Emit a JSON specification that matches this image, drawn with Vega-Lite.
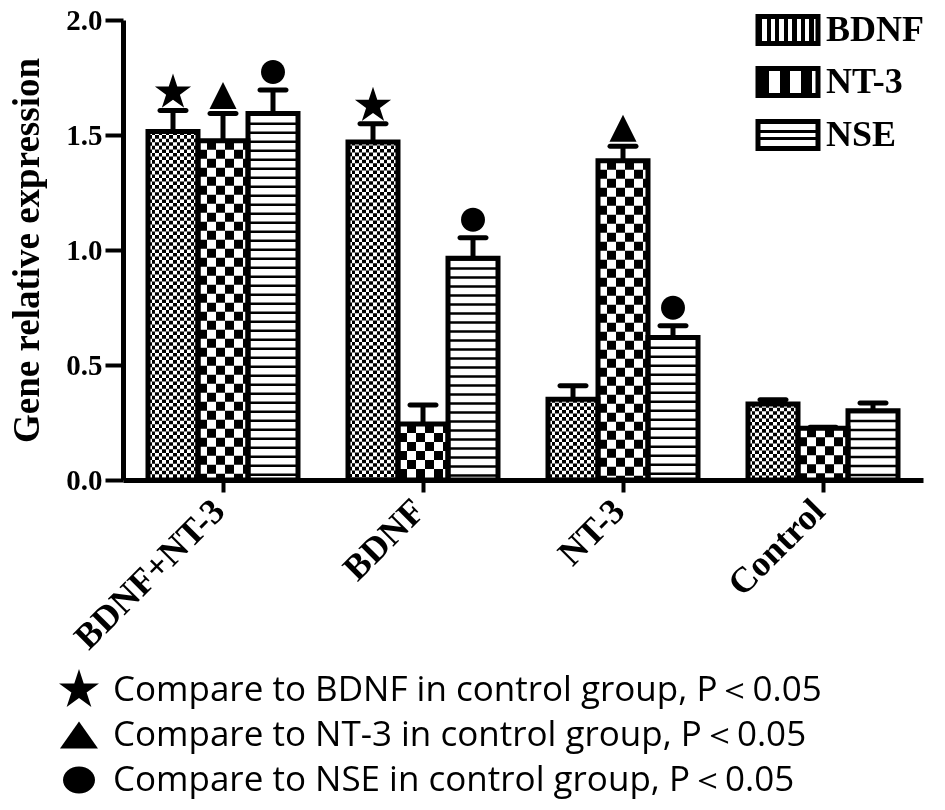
{
  "$schema": "https://vega.github.io/schema/vega-lite/v6.json",
  "width": 800,
  "height": 460,
  "autosize": {"type": "none"},
  "padding": {"left": 123, "top": 20, "right": 22, "bottom": 330},
  "background": "white",
  "data": {
    "values": [
      {"group": "BDNF+NT-3", "gene": "BDNF", "value": 1.515, "upper": 1.607, "sig": "star"},
      {"group": "BDNF+NT-3", "gene": "NT-3", "value": 1.475, "upper": 1.593, "sig": "triangle"},
      {"group": "BDNF+NT-3", "gene": "NSE", "value": 1.594, "upper": 1.696, "sig": "circle"},
      {"group": "BDNF", "gene": "BDNF", "value": 1.470, "upper": 1.549, "sig": "star"},
      {"group": "BDNF", "gene": "NT-3", "value": 0.243, "upper": 0.326, "sig": null},
      {"group": "BDNF", "gene": "NSE", "value": 0.964, "upper": 1.053, "sig": "circle"},
      {"group": "NT-3", "gene": "BDNF", "value": 0.351, "upper": 0.410, "sig": null},
      {"group": "NT-3", "gene": "NT-3", "value": 1.388, "upper": 1.451, "sig": "triangle"},
      {"group": "NT-3", "gene": "NSE", "value": 0.620, "upper": 0.671, "sig": "circle"},
      {"group": "Control", "gene": "BDNF", "value": 0.330, "upper": 0.349, "sig": null},
      {"group": "Control", "gene": "NT-3", "value": 0.225, "upper": 0.229, "sig": null},
      {"group": "Control", "gene": "NSE", "value": 0.301, "upper": 0.335, "sig": null}
    ]
  },
  "encoding": {
    "x": {
      "field": "group",
      "type": "nominal",
      "scale": {"domain": ["BDNF+NT-3", "BDNF", "NT-3", "Control"], "paddingInner": 0, "paddingOuter": 0},
      "axis": {"title": null}
    },
    "xOffset": {
      "field": "gene",
      "type": "nominal",
      "scale": {"domain": ["BDNF", "NT-3", "NSE"], "paddingInner": 0, "paddingOuter": 0.5}
    },
    "y": {
      "field": "value",
      "type": "quantitative",
      "scale": {"domain": [0, 2], "nice": false},
      "axis": {"title": "Gene relative expression", "values": [0, 0.5, 1, 1.5, 2], "format": ".1f"}
    }
  },
  "layer": [
    {
      "transform": [{"filter": "datum.gene === 'BDNF'"}],
      "mark": {
        "type": "bar",
        "stroke": null,
        "fill": {
          "gradient": "linear", "x1": 0, "y1": 0, "x2": 1, "y2": 0,
          "stops": [
            {"offset": 0, "color": "black"}, {"offset": 0.0714, "color": "black"},
            {"offset": 0.0714, "color": "white"}, {"offset": 0.1429, "color": "white"},
            {"offset": 0.1429, "color": "black"}, {"offset": 0.2143, "color": "black"},
            {"offset": 0.2143, "color": "white"}, {"offset": 0.2857, "color": "white"},
            {"offset": 0.2857, "color": "black"}, {"offset": 0.3571, "color": "black"},
            {"offset": 0.3571, "color": "white"}, {"offset": 0.4286, "color": "white"},
            {"offset": 0.4286, "color": "black"}, {"offset": 0.5, "color": "black"},
            {"offset": 0.5, "color": "white"}, {"offset": 0.5714, "color": "white"},
            {"offset": 0.5714, "color": "black"}, {"offset": 0.6429, "color": "black"},
            {"offset": 0.6429, "color": "white"}, {"offset": 0.7143, "color": "white"},
            {"offset": 0.7143, "color": "black"}, {"offset": 0.7857, "color": "black"},
            {"offset": 0.7857, "color": "white"}, {"offset": 0.8571, "color": "white"},
            {"offset": 0.8571, "color": "black"}, {"offset": 0.9286, "color": "black"},
            {"offset": 0.9286, "color": "white"}, {"offset": 1, "color": "white"}
          ]
        }
      }
    },
    {
      "transform": [{"filter": "datum.gene === 'BDNF'"}],
      "mark": {"type": "rule", "stroke": "white", "strokeWidth": 50, "strokeDash": [3.571, 3.571], "blend": "difference"},
      "encoding": {
        "y2": {"datum": 0}
      }
    },
    {
      "transform": [{"filter": "datum.gene === 'NT-3'"}],
      "mark": {
        "type": "bar",
        "stroke": null,
        "fill": {
          "gradient": "linear", "x1": 0, "y1": 0, "x2": 1, "y2": 0,
          "stops": [
            {"offset": 0, "color": "black"}, {"offset": 0.18, "color": "black"},
            {"offset": 0.18, "color": "white"}, {"offset": 0.36, "color": "white"},
            {"offset": 0.36, "color": "black"}, {"offset": 0.54, "color": "black"},
            {"offset": 0.54, "color": "white"}, {"offset": 0.72, "color": "white"},
            {"offset": 0.72, "color": "black"}, {"offset": 0.9, "color": "black"},
            {"offset": 0.9, "color": "white"}, {"offset": 1, "color": "white"}
          ]
        }
      }
    },
    {
      "transform": [{"filter": "datum.gene === 'NT-3'"}],
      "mark": {"type": "rule", "stroke": "white", "strokeWidth": 50, "strokeDash": [9, 9], "blend": "difference"},
      "encoding": {
        "y2": {"datum": 0}
      }
    },
    {
      "transform": [{"filter": "datum.gene === 'NSE'"}],
      "mark": {"type": "rule", "stroke": "black", "strokeWidth": 50, "strokeDash": [2.5, 6.5]},
      "encoding": {
        "y2": {"datum": 0}
      }
    },
    {
      "transform": [{"filter": "datum.gene === 'BDNF'"}],
      "mark": {
        "type": "bar",
        "fillOpacity": 0,
        "strokeWidth": 5,
        "fill": {
          "gradient": "linear", "x1": 0, "y1": 0, "x2": 1, "y2": 0,
          "stops": [
            {"offset": 0, "color": "black"}, {"offset": 0.0714, "color": "black"},
            {"offset": 0.0714, "color": "white"}, {"offset": 0.1429, "color": "white"},
            {"offset": 0.1429, "color": "black"}, {"offset": 0.2143, "color": "black"},
            {"offset": 0.2143, "color": "white"}, {"offset": 0.2857, "color": "white"},
            {"offset": 0.2857, "color": "black"}, {"offset": 0.3571, "color": "black"},
            {"offset": 0.3571, "color": "white"}, {"offset": 0.4286, "color": "white"},
            {"offset": 0.4286, "color": "black"}, {"offset": 0.5, "color": "black"},
            {"offset": 0.5, "color": "white"}, {"offset": 0.5714, "color": "white"},
            {"offset": 0.5714, "color": "black"}, {"offset": 0.6429, "color": "black"},
            {"offset": 0.6429, "color": "white"}, {"offset": 0.7143, "color": "white"},
            {"offset": 0.7143, "color": "black"}, {"offset": 0.7857, "color": "black"},
            {"offset": 0.7857, "color": "white"}, {"offset": 0.8571, "color": "white"},
            {"offset": 0.8571, "color": "black"}, {"offset": 0.9286, "color": "black"},
            {"offset": 0.9286, "color": "white"}, {"offset": 1, "color": "white"}
          ]
        }
      },
      "encoding": {
        "stroke": {
          "field": "gene",
          "type": "nominal",
          "scale": {"domain": ["BDNF"], "range": ["black"]},
          "legend": {
            "title": null, "orient": "none", "legendX": 636, "legendY": -19, "padding": 0,
            "symbolType": "M-1.132,-0.509H1.132V0.509H-1.132Z", "symbolSize": 2809, "symbolStrokeWidth": 5, "symbolOpacity": 1,
            "labelFont": "Liberation Serif", "labelFontWeight": "bold", "labelFontSize": 36, "labelColor": "black", "labelOffset": 9,
            "encode": {"symbols": {"update": {"fillOpacity": {"value": 1}, "opacity": {"value": 1}, "strokeWidth": {"value": 5}, "strokeJoin": {"value": "round"}}}}
          }
        }
      }
    },
    {
      "transform": [{"filter": "datum.gene === 'NT-3'"}],
      "mark": {
        "type": "bar",
        "fillOpacity": 0,
        "strokeWidth": 5,
        "fill": {
          "gradient": "linear", "x1": 0, "y1": 0, "x2": 1, "y2": 0,
          "stops": [
            {"offset": 0, "color": "black"}, {"offset": 0.18, "color": "black"},
            {"offset": 0.18, "color": "white"}, {"offset": 0.36, "color": "white"},
            {"offset": 0.36, "color": "black"}, {"offset": 0.54, "color": "black"},
            {"offset": 0.54, "color": "white"}, {"offset": 0.72, "color": "white"},
            {"offset": 0.72, "color": "black"}, {"offset": 0.9, "color": "black"},
            {"offset": 0.9, "color": "white"}, {"offset": 1, "color": "white"}
          ]
        }
      },
      "encoding": {
        "stroke": {
          "field": "gene",
          "type": "nominal",
          "scale": {"domain": ["NT-3"], "range": ["black"]},
          "legend": {
            "title": null, "orient": "none", "legendX": 636, "legendY": 33, "padding": 0,
            "symbolType": "M-1.132,-0.509H1.132V0.509H-1.132Z", "symbolSize": 2809, "symbolStrokeWidth": 5, "symbolOpacity": 1,
            "labelFont": "Liberation Serif", "labelFontWeight": "bold", "labelFontSize": 36, "labelColor": "black", "labelOffset": 9,
            "encode": {"symbols": {"update": {"fillOpacity": {"value": 1}, "opacity": {"value": 1}, "strokeWidth": {"value": 5}, "strokeJoin": {"value": "round"}}}}
          }
        }
      }
    },
    {
      "transform": [{"filter": "datum.gene === 'NSE'"}],
      "mark": {
        "type": "bar",
        "fillOpacity": 0,
        "strokeWidth": 5,
        "fill": {
          "gradient": "linear", "x1": 0, "y1": 0, "x2": 0, "y2": 1,
          "stops": [
            {"offset": 0, "color": "white"}, {"offset": 0.3, "color": "white"},
            {"offset": 0.3, "color": "black"}, {"offset": 0.42, "color": "black"},
            {"offset": 0.42, "color": "white"}, {"offset": 0.58, "color": "white"},
            {"offset": 0.58, "color": "black"}, {"offset": 0.7, "color": "black"},
            {"offset": 0.7, "color": "white"}, {"offset": 1, "color": "white"}
          ]
        }
      },
      "encoding": {
        "stroke": {
          "field": "gene",
          "type": "nominal",
          "scale": {"domain": ["NSE"], "range": ["black"]},
          "legend": {
            "title": null, "orient": "none", "legendX": 636, "legendY": 86, "padding": 0,
            "symbolType": "M-1.132,-0.509H1.132V0.509H-1.132Z", "symbolSize": 2809, "symbolStrokeWidth": 5, "symbolOpacity": 1,
            "labelFont": "Liberation Serif", "labelFontWeight": "bold", "labelFontSize": 36, "labelColor": "black", "labelOffset": 9,
            "encode": {"symbols": {"update": {"fillOpacity": {"value": 1}, "opacity": {"value": 1}, "strokeWidth": {"value": 5}, "strokeJoin": {"value": "round"}}}}
          }
        }
      }
    },
    {
      "mark": {"type": "rule", "color": "black", "strokeWidth": 5},
      "encoding": {
        "y2": {"field": "upper"}
      }
    },
    {
      "mark": {"type": "tick", "orient": "horizontal", "size": 31, "thickness": 5, "cornerRadius": 2.5, "color": "black", "opacity": 1},
      "encoding": {
        "y": {"field": "upper", "type": "quantitative", "title": "Gene relative expression"}
      }
    },
    {
      "transform": [{"filter": "datum.sig != null"}],
      "mark": {"type": "point", "filled": true, "color": "black", "opacity": 1, "size": 1444, "yOffset": -18},
      "encoding": {
        "y": {"field": "upper", "type": "quantitative", "title": "Gene relative expression"},
        "shape": {
          "field": "sig",
          "type": "nominal",
          "scale": {
            "domain": ["star", "triangle", "circle"],
            "range": [
              "M0,-1L0.225,-0.309L0.951,-0.309L0.363,0.118L0.588,0.809L0,0.382L-0.588,0.809L-0.363,0.118L-0.951,-0.309L-0.225,-0.309Z",
              "M0,-0.71L0.71,0.71L-0.71,0.71Z",
              "M-0.63,0A0.63,0.63 0 1 0 0.63,0A0.63,0.63 0 1 0 -0.63,0Z"
            ]
          },
          "legend": null
        }
      }
    },
    {
      "transform": [{"filter": "datum.sig != null"}],
      "mark": {"type": "point", "filled": true, "color": "black", "opacity": 0, "size": 1764},
      "encoding": {
        "y": {"field": "upper", "type": "quantitative", "title": "Gene relative expression"},
        "shape": {
          "field": "sig",
          "type": "nominal",
          "scale": {
            "domain": ["star", "triangle", "circle"],
            "range": [
              "M0,-1L0.225,-0.309L0.951,-0.309L0.363,0.118L0.588,0.809L0,0.382L-0.588,0.809L-0.363,0.118L-0.951,-0.309L-0.225,-0.309Z",
              "M0,-0.643L0.905,0.643L-0.905,0.643Z",
              "M-0.762,0A0.762,0.643 0 1 0 0.762,0A0.762,0.643 0 1 0 -0.762,0Z"
            ]
          },
          "legend": {
            "title": null,
            "orient": "none",
            "legendX": -65,
            "legendY": 649,
            "padding": 0,
            "rowPadding": 6,
            "symbolSize": 1764,
            "symbolFillColor": "black",
            "symbolStrokeWidth": 0,
            "symbolOpacity": 1,
            "labelFont": "Open Sans",
            "labelFontSize": 35,
            "labelColor": "black",
            "labelLimit": 2000,
            "labelOffset": 13,
            "labelExpr": "datum.value === 'star' ? 'Compare to BDNF in control group, P＜0.05' : datum.value === 'triangle' ? 'Compare to NT-3 in control group, P＜0.05' : 'Compare to NSE  in control group, P＜0.05'"
          }
        }
      }
    }
  ],
  "resolve": {"scale": {"shape": "independent", "stroke": "independent"}},
  "config": {
    "view": {"stroke": null},
    "axisX": {
      "labelAngle": -45,
      "labelAlign": "right",
      "labelBaseline": "top",
      "labelPadding": 1,
      "labelOffset": -16,
      "labelFont": "Liberation Serif",
      "labelFontWeight": "bold",
      "labelFontSize": 36,
      "labelColor": "black",
      "labelLimit": 400,
      "tickSize": 12,
      "tickWidth": 4,
      "tickColor": "black",
      "domainColor": "black",
      "domainWidth": 5,
      "zindex": 1
    },
    "axisY": {
      "grid": false,
      "labelFont": "Liberation Serif",
      "labelFontWeight": "bold",
      "labelFontSize": 29,
      "labelColor": "black",
      "labelPadding": 3,
      "tickSize": 18,
      "tickWidth": 4,
      "tickColor": "black",
      "domainColor": "black",
      "domainWidth": 5,
      "titleFont": "Liberation Serif",
      "titleFontWeight": "bold",
      "titleFontSize": 37,
      "titleColor": "black",
      "titlePadding": 19,
      "zindex": 1
    }
  }
}
